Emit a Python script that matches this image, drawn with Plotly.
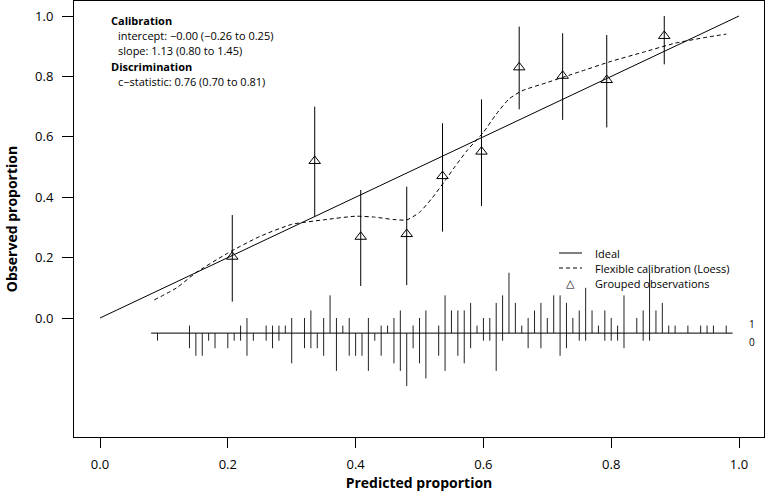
import plotly.graph_objects as go

# ---------------- data ----------------
# grouped observations (predicted, observed, 95% CI)
grp_pred = [0.207, 0.336, 0.408, 0.480, 0.536, 0.597, 0.656, 0.724, 0.793, 0.883]
grp_obs = [0.203, 0.520, 0.269, 0.278, 0.470, 0.551, 0.830, 0.802, 0.788, 0.934]
grp_lo = [0.054, 0.335, 0.106, 0.109, 0.286, 0.371, 0.691, 0.656, 0.631, 0.840]
grp_hi = [0.341, 0.700, 0.424, 0.435, 0.645, 0.724, 0.965, 0.943, 0.937, 1.000]

# flexible calibration (loess) curve
loess_x = [0.085, 0.12, 0.15, 0.20, 0.25, 0.30, 0.35, 0.40, 0.43, 0.46, 0.48, 0.50,
           0.52, 0.54, 0.555, 0.575, 0.60, 0.62, 0.64, 0.66, 0.70, 0.75, 0.80, 0.85,
           0.90, 0.95, 0.98]
loess_y = [0.060, 0.100, 0.150, 0.215, 0.270, 0.310, 0.325, 0.337, 0.334, 0.326, 0.325, 0.350,
           0.398, 0.455, 0.500, 0.556, 0.615, 0.675, 0.725, 0.752, 0.780, 0.815, 0.850, 0.880,
           0.910, 0.930, 0.940]

# ideal line
ideal_x = [0.0, 1.0]
ideal_y = [0.0, 1.0]

# spike histogram of predictions: bins, counts of events (1) and non-events (0)
spike_bins = [0.09, 0.14, 0.15, 0.16, 0.17, 0.18, 0.20, 0.21, 0.22, 0.23, 0.24, 0.26, 0.27,
              0.28, 0.29, 0.30, 0.32, 0.33, 0.34, 0.35, 0.36, 0.37, 0.38, 0.39, 0.40, 0.41,
              0.42, 0.43, 0.44, 0.45, 0.46, 0.47, 0.48, 0.49, 0.50, 0.51, 0.53, 0.54, 0.55,
              0.56, 0.57, 0.58, 0.59, 0.60, 0.61, 0.62, 0.63, 0.64, 0.65, 0.66, 0.67, 0.68,
              0.69, 0.70, 0.71, 0.72, 0.73, 0.74, 0.75, 0.76, 0.77, 0.78, 0.79, 0.80, 0.81,
              0.82, 0.84, 0.85, 0.86, 0.87, 0.88, 0.89, 0.90, 0.92, 0.94, 0.95, 0.96, 0.98]
spike_n1 = [0, 1, 0, 0, 0, 0, 0, 0, 1, 2, 0, 1, 1,
            1, 1, 2, 2, 3, 0, 2, 5, 2, 1, 2, 0, 0,
            2, 0, 1, 1, 2, 3, 0, 1, 2, 3, 1, 5, 3,
            3, 3, 4, 1, 2, 2, 4, 5, 8, 4, 1, 2, 3,
            4, 2, 5, 5, 4, 2, 3, 6, 3, 1, 3, 2, 1,
            5, 2, 3, 8, 3, 4, 1, 1, 1, 1, 1, 1, 1]
spike_n0 = [1, 2, 3, 3, 1, 2, 2, 1, 1, 3, 1, 1, 2,
            1, 0, 4, 2, 2, 2, 3, 0, 5, 0, 3, 3, 3,
            5, 1, 3, 0, 4, 5, 7, 2, 4, 6, 3, 5, 0,
            3, 4, 2, 0, 1, 1, 5, 1, 0, 0, 0, 2, 0,
            2, 0, 0, 3, 2, 0, 1, 1, 0, 0, 1, 1, 1,
            2, 0, 1, 1, 0, 0, 0, 0, 0, 0, 0, 0, 0]

stats_lines = [
    ("<b>Calibration</b>", 0),
    ("intercept: \u22120.00 (\u22120.26 to 0.25)", 1),
    ("slope: 1.13 (0.80 to 1.45)", 1),
    ("<b>Discrimination</b>", 0),
    ("c\u2212statistic: 0.76 (0.70 to 0.81)", 1),
]
legend_labels = ["Ideal", "Flexible calibration (Loess)", "Grouped observations"]
x_ticks = [0.0, 0.2, 0.4, 0.6, 0.8, 1.0]
y_ticks = [0.0, 0.2, 0.4, 0.6, 0.8, 1.0]

# ---------------- layout constants ----------------
W, H = 767, 495
ML, MR, MT, MB = 74, 3, 1, 58
PW, PH = W - ML - MR, H - MT - MB
FONT = "Open Sans"
spike_base = -0.05
spike_unit = 0.025


def px(xp):
    return (xp - ML) / PW


def py(yp):
    return 1 - (yp - MT) / PH


fig = go.Figure()

# ideal
fig.add_trace(go.Scatter(x=ideal_x, y=ideal_y, mode="lines",
                         line=dict(color="black", width=1), showlegend=False, hoverinfo="skip"))
# loess
fig.add_trace(go.Scatter(x=loess_x, y=loess_y, mode="lines",
                         line=dict(color="black", width=1, dash="4px,3px", shape="spline", smoothing=0.6),
                         showlegend=False, hoverinfo="skip"))
# grouped observations with CIs
fig.add_trace(go.Scatter(
    x=grp_pred, y=grp_obs, mode="markers",
    marker=dict(symbol="triangle-up-open", size=10, color="black", line=dict(width=1, color="black")),
    error_y=dict(type="data", symmetric=False,
                 array=[h - o for h, o in zip(grp_hi, grp_obs)],
                 arrayminus=[o - l for o, l in zip(grp_obs, grp_lo)],
                 width=0, thickness=1, color="black"),
    showlegend=False))

# spike histogram
sx, sy = [], []
for b, n1, n0 in zip(spike_bins, spike_n1, spike_n0):
    if n1 > 0:
        sx += [b, b, None]
        sy += [spike_base, spike_base + n1 * spike_unit, None]
    if n0 > 0:
        sx += [b, b, None]
        sy += [spike_base, spike_base - n0 * spike_unit, None]
fig.add_trace(go.Scatter(x=sx, y=sy, mode="lines", line=dict(color="#222", width=1),
                         showlegend=False, hoverinfo="skip", connectgaps=False))
fig.add_trace(go.Scatter(x=[min(spike_bins) - 0.01, max(spike_bins) + 0.01],
                         y=[spike_base, spike_base], mode="lines",
                         line=dict(color="black", width=1), showlegend=False, hoverinfo="skip"))

annotations = []
# 1 / 0 labels of spike histogram
annotations.append(dict(x=max(spike_bins) + 0.04, y=spike_base + 0.03, xref="x", yref="y",
                        text="1", showarrow=False, font=dict(family=FONT, size=10, color="black")))
annotations.append(dict(x=max(spike_bins) + 0.04, y=spike_base - 0.03, xref="x", yref="y",
                        text="0", showarrow=False, font=dict(family=FONT, size=10, color="black")))

# stats text block
y0 = 20
for i, (t, ind) in enumerate(stats_lines):
    annotations.append(dict(x=px(109 + 7 * ind), y=py(y0 + i * 15.4), xref="paper", yref="paper",
                            xanchor="left", yanchor="middle", text=t, showarrow=False,
                            font=dict(family=FONT, size=11, color="black")))

# manual legend
leg_y = [253, 268, 283]
shapes = []
shapes.append(dict(type="line", xref="paper", yref="paper", x0=px(559), x1=px(582),
                   y0=py(leg_y[0]), y1=py(leg_y[0]), line=dict(color="black", width=1)))
shapes.append(dict(type="line", xref="paper", yref="paper", x0=px(559), x1=px(582),
                   y0=py(leg_y[1]), y1=py(leg_y[1]), line=dict(color="black", width=1, dash="4px,3px")))
annotations.append(dict(x=px(570), y=py(leg_y[2]), xref="paper", yref="paper", text="\u25B3",
                        showarrow=False, xanchor="center", yanchor="middle",
                        font=dict(family="DejaVu Sans", size=11, color="black")))
for lab, yy in zip(legend_labels, leg_y):
    annotations.append(dict(x=px(593), y=py(yy), xref="paper", yref="paper", text=lab,
                            xanchor="left", yanchor="middle", showarrow=False,
                            font=dict(family=FONT, size=11, color="black")))

fig.update_layout(
    width=W, height=H,
    margin=dict(l=ML, r=MR, t=MT, b=MB, autoexpand=False),
    paper_bgcolor="white", plot_bgcolor="white",
    showlegend=False,
    annotations=annotations, shapes=shapes,
    xaxis=dict(range=[-0.0407, 1.0391], tickvals=x_ticks, ticktext=[f"{v:.1f}" for v in x_ticks],
               automargin=False,
               showgrid=False, zeroline=False, showline=True, mirror=True, linecolor="black", linewidth=1,
               ticks="outside", ticklen=10, tickwidth=1, tickcolor="black", ticklabelstandoff=5,
               tickfont=dict(family=FONT, size=13, color="black"),
               title=dict(text="<b>Predicted proportion</b>", standoff=6,
                          font=dict(family=FONT, size=14, color="black"))),
    yaxis=dict(range=[-0.394, 1.0497], tickvals=y_ticks, ticktext=[f"{v:.1f}" for v in y_ticks],
               automargin=False,
               showgrid=False, zeroline=False, showline=True, mirror=True, linecolor="black", linewidth=1,
               ticks="outside", ticklen=11, tickwidth=1, tickcolor="black", ticklabelstandoff=6,
               tickfont=dict(family=FONT, size=13, color="black"),
               title=dict(text="<b>Observed proportion</b>", standoff=14,
                          font=dict(family=FONT, size=14, color="black"))),
)

fig.write_html("out.html", config={"displayModeBar": False},
               post_script="document.body.style.margin='0';document.body.style.padding='0';"
                           "document.body.style.overflow='hidden';")
